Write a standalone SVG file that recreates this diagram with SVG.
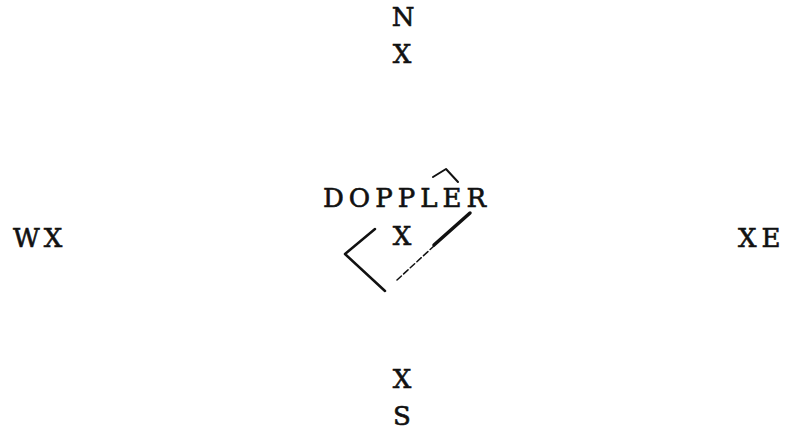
<svg xmlns="http://www.w3.org/2000/svg" width="789" height="431" viewBox="0 0 789 431">
<style>
text{font-family:"DejaVu Serif","Liberation Serif",serif;font-size:26px;fill:#111;stroke:#111;stroke-width:0.6;}
.c{text-anchor:middle;}
.ln{fill:none;stroke:#111;stroke-linecap:round;stroke-linejoin:round;}
</style>
<rect width="789" height="431" fill="#fff"/>
<g id="north">
<text class="c" x="403" y="26">N</text>
<text class="c" x="402" y="63">X</text>
</g>
<g id="west"><text x="13" y="247" letter-spacing="4">WX</text></g>
<g id="east"><text x="738" y="247" letter-spacing="5">XE</text></g>
<g id="center">
<text x="323" y="207" letter-spacing="5">DOPPLER</text>
<text class="c" x="402" y="245">X</text>
</g>
<g id="south">
<text class="c" x="402" y="388">X</text>
<text class="c" x="402" y="425">S</text>
</g>
<g id="marks">
<polyline class="ln" stroke-width="2.5" points="375,229 345,254 385,291"/>
<line class="ln" stroke-width="1.5" stroke-dasharray="6,3" x1="397" y1="280" x2="434" y2="246"/>
<line class="ln" stroke-width="3.5" x1="434" y1="245" x2="470" y2="213"/>
<polyline class="ln" stroke-width="2" points="433,177 446,169 458,182"/>
</g>
</svg>
